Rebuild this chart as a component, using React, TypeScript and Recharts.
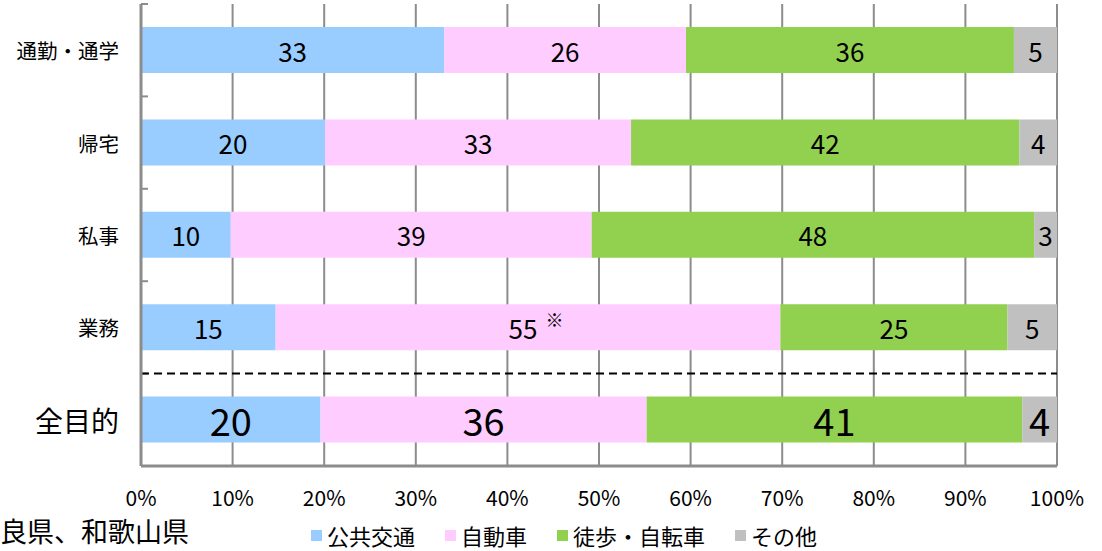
import React from "react";
import {
  BarChart, Bar, XAxis, YAxis, CartesianGrid, ReferenceLine, LabelList,
} from "recharts";

const categories = ["通勤・通学", "帰宅", "私事", "業務", "全目的"];
const publicTransit = [33.1, 20.1, 9.8, 14.7, 19.6];
const car = [26.4, 33.4, 39.4, 55.1, 35.6];
const walkBike = [35.8, 42.4, 48.3, 24.8, 41.0];
const other = [4.7, 4.1, 2.5, 5.4, 3.8];
const xTicks = [0, 10, 20, 30, 40, 50, 60, 70, 80, 90, 100];

const series = [
  { key: "transit", name: "公共交通", color: "#99CCFF", values: publicTransit },
  { key: "car", name: "自動車", color: "#FFCCFF", values: car },
  { key: "walk", name: "徒歩・自転車", color: "#92D050", values: walkBike },
  { key: "other", name: "その他", color: "#C0C0C0", values: other },
];

const data = categories.map((name, i) => {
  const row: any = { name };
  series.forEach((s) => (row[s.key] = s.values[i]));
  return row;
});

const FONT = "'Noto Sans CJK JP', 'Noto Sans', sans-serif";
const TOTAL = "全目的";
const AXIS_GRAY = "#8c8c8c";

const CatTick = ({ x, y, payload }: any) => (
  <text
    x={x}
    y={y}
    textAnchor="end"
    dominantBaseline="central"
    fontSize={payload.value === TOTAL ? 28 : 20.5}
    fontFamily={FONT}
    fill="#000"
  >
    {payload.value}
  </text>
);

// short inward tick at the top edge of each category band
const BandTick = (p: any) => (
  <line x1={p.x1} y1={p.y1} x2={p.x1 + 7} y2={p.y1} stroke={AXIS_GRAY} strokeWidth={2} />
);

const makeLabel = (seriesKey: string) => (props: any) => {
  const { x, y, width, height, value, index } = props;
  const big = categories[index] === TOTAL;
  const note = seriesKey === "car" && categories[index] === "業務";
  return (
    <text
      x={x + width / 2 + (note ? 8 : 0)}
      y={y + height / 2}
      textAnchor="middle"
      dominantBaseline="central"
      fontSize={big ? 38 : 26}
      fontFamily={FONT}
      fill="#000"
    >
      {Math.round(value)}
      {note && (
        <tspan fontSize={18} dx={8} dy={-8}>※</tspan>
      )}
    </text>
  );
};

export default function App() {
  return (
    <div style={{ position: "absolute", left: 0, top: 0, width: 1102, height: 551, background: "#fff", fontFamily: FONT }}>
      <BarChart
        width={1102}
        height={551}
        data={data}
        layout="vertical"
        margin={{ top: 4, right: 45, left: 0, bottom: 0 }}
        barSize={46}
      >
        <CartesianGrid horizontal={false} stroke={AXIS_GRAY} strokeWidth={2} />
        <XAxis
          type="number"
          domain={[0, 100]}
          ticks={xTicks}
          tickFormatter={(v) => `${v}%`}
          height={85}
          axisLine={{ stroke: AXIS_GRAY, strokeWidth: 3 }}
          tickLine={false}
          tickMargin={19}
          tick={{ fontSize: 21, fill: "#000", fontFamily: FONT }}
          interval={0}
        />
        <YAxis
          yAxisId="cat"
          type="category"
          dataKey="name"
          width={141}
          axisLine={{ stroke: AXIS_GRAY, strokeWidth: 3 }}
          tickLine={false}
          tickMargin={16}
          tick={<CatTick />}
          interval={0}
        />
        {categories.map((c) => (
          <ReferenceLine key={`t-${c}`} yAxisId="cat" y={c} position="start" shape={BandTick} />
        ))}
        {series.map((s) => (
          <Bar key={s.key} yAxisId="cat" dataKey={s.key} name={s.name} stackId="a" fill={s.color} isAnimationActive={false}>
            <LabelList dataKey={s.key} content={makeLabel(s.key)} />
          </Bar>
        ))}
        <ReferenceLine yAxisId="cat" y={TOTAL} position="start" stroke="#000" strokeWidth={2} strokeDasharray="8 5" />
      </BarChart>
      <div style={{ position: "absolute", left: 311, top: 522, display: "flex", alignItems: "center", fontSize: 22, color: "#000" }}>
        {series.map((s) => (
          <div key={s.key} style={{ display: "flex", alignItems: "center", marginRight: 30, height: 26 }}>
            <span style={{ width: 11, height: 11, background: s.color, display: "block", marginRight: 5 }} />
            <span style={{ display: "block", lineHeight: "26px", height: 26 }}>{s.name}</span>
          </div>
        ))}
      </div>
      <div style={{ position: "absolute", left: 0, top: 515, fontSize: 27, lineHeight: "32px", color: "#000" }}>
        良県、和歌山県
      </div>
    </div>
  );
}
